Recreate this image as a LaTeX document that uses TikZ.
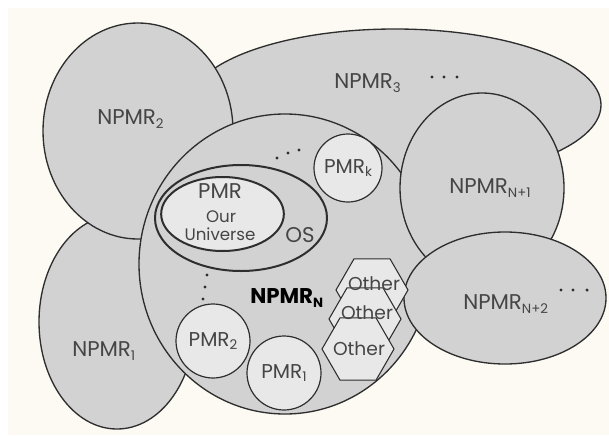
\documentclass[tikz,border=0pt]{standalone}
\usepackage{fontspec}
\setmainfont{Poppins}
\usetikzlibrary{shapes.geometric}

\definecolor{paper}{HTML}{FCFAF2}
\definecolor{regfill}{HTML}{D2D2D2}
\definecolor{pmrfill}{HTML}{E8E8E8}
\definecolor{edge}{HTML}{2E2E2E}
\definecolor{ink}{HTML}{454545}

\newcommand\lsub[1]{\raisebox{-0.35ex}{\fontsize{10}{10}\selectfont #1}}

\begin{document}
\begin{tikzpicture}[x=0.75pt,y=-0.75pt,
    region/.style={ellipse, fill=regfill, draw=edge, line width=1pt, inner sep=0pt},
    inner/.style={ellipse, fill=#1, draw=edge, line width=1.5pt, inner sep=0pt},
    world/.style={circle, fill=pmrfill, draw=edge, line width=0.9pt, inner sep=0pt,
        text=ink, font=\fontsize{15}{16}\selectfont},
    other/.style={regular polygon, regular polygon sides=6, fill=pmrfill, draw=edge,
        line width=0.8pt, inner sep=0pt, minimum size=54pt},
    lbl/.style={text=ink, inner sep=0pt, anchor=base west, font=\fontsize{16}{18}\selectfont},
    dot/.style={circle, fill=edge, inner sep=0pt, minimum size=2.6pt}]
    \useasboundingbox (0,0) rectangle (609,435);
    \fill[white] (0,0) rectangle (609,435);
    \fill[paper] (8,8) rectangle (609,435);

    % outer non-physical regions
    \node[region, minimum width=309pt, minimum height=114pt] (n3) at (395,105) {};
    \node[region, minimum width=117pt, minimum height=160.5pt] (n1) at (117,322) {};
    \node[region, minimum width=142.5pt, minimum height=162pt] (n2) at (138,131) {};
    \node[region, minimum width=219pt, minimum height=225pt] (nN) at (285,264) {};
    \node[region, minimum width=123pt, minimum height=142.5pt] (nN1) at (482,188) {};
    \node[region, minimum width=151.5pt, minimum height=99pt] (nN2) at (505,298) {};

    % our universe
    \node[inner=regfill, minimum width=129pt, minimum height=79.5pt] (os) at (241,218) {};
    \node[inner=pmrfill, minimum width=92pt, minimum height=55.5pt] (ours) at (222.5,214) {};

    % physical regions
    \node[world, minimum size=51pt] (pk) at (348,168) {PMR\lsub{k}};
    \node[world, minimum size=55.5pt] (p2) at (213,341) {PMR\lsub{2}};
    \node[world, minimum size=55.5pt] (p1) at (284,373) {PMR\lsub{1}};

    \node[other] (o3) at (372,290) {};
    \node[other] (o2) at (365,319) {};
    \node[other] (o1) at (358,349) {};
    \node[text=ink, font=\fontsize{14}{14}\selectfont] (t3) at (374,284) {Other};
    \node[text=ink, font=\fontsize{14}{14}\selectfont] (t2) at (367,313) {Other};
    \node[text=ink, font=\fontsize{14}{14}\selectfont] (t1) at (359,349) {Other};

    % labels
    \node[lbl] (l2) at (97,124) {NPMR\lsub{2}};
    \node[lbl] (l3) at (334,88) {NPMR\lsub{3}};
    \node[lbl] (l1) at (72,356) {NPMR\lsub{1}};
    \node[lbl] (lN1) at (449,193) {NPMR\lsub{N+1}};
    \node[lbl] (lN2) at (463,309) {NPMR\lsub{N+2}};
    \node[lbl, text=black, font=\fontsize{16}{18}\bfseries] (lN) at (250,303) {NPMR\lsub{\bfseries N}};
    \node[lbl] (los) at (285,242) {OS};
    \node[lbl, anchor=base] (lp) at (220,198) {PMR};
    \node[lbl, anchor=base, font=\fontsize{12.5}{14}\selectfont] (lour) at (221,222) {Our};
    \node[lbl, anchor=base, font=\fontsize{12.5}{14}\selectfont] (luni) at (220,240) {Universe};

    % dots
    \foreach \x in {432,444,457} \node[dot] at (\x,77) {};
    \foreach \x in {561,573,587} \node[dot] at (\x,290) {};
    \node[dot] (d1) at (277,158) {};
    \node[dot] (d2) at (288,153) {};
    \node[dot] (d3) at (299,150) {};
    \node[dot] (v1) at (207,275) {};
    \node[dot] (v2) at (205,287) {};
    \node[dot] (v3) at (203,299) {};
\end{tikzpicture}
\end{document}
